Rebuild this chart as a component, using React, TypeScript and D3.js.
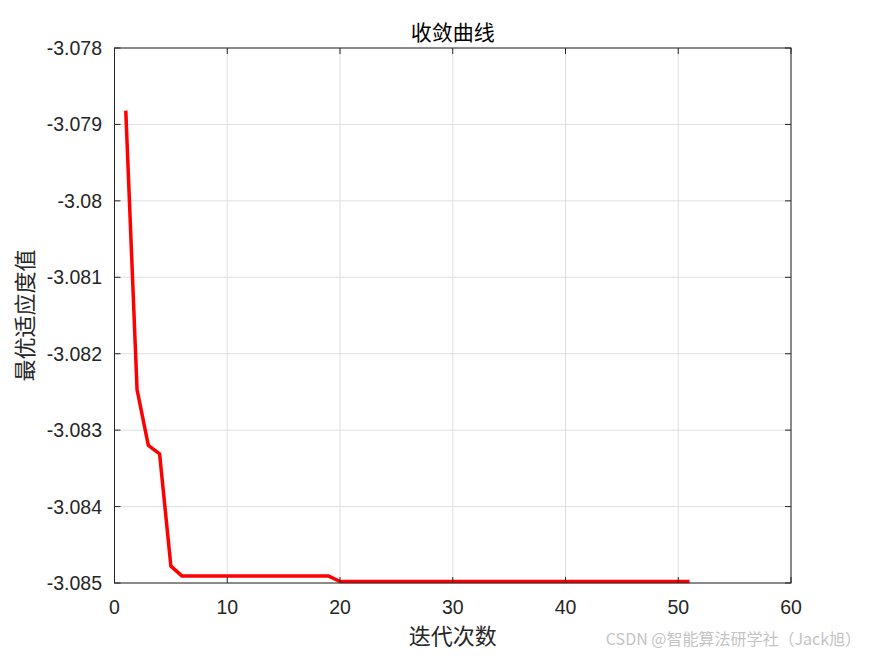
import React from "react";
import * as d3 from "d3";

const iterations: number[] = [
  1, 2, 3, 4, 5, 6, 7, 8, 9, 10, 11, 12, 13, 14, 15, 16, 17, 18, 19, 20,
  21, 22, 23, 24, 25, 26, 27, 28, 29, 30, 31, 32, 33, 34, 35, 36, 37, 38, 39, 40,
  41, 42, 43, 44, 45, 46, 47, 48, 49, 50, 51,
];
const fitness: number[] = [
  -3.07882, -3.08247, -3.0832, -3.08331, -3.08478, -3.08491, -3.08491, -3.08491, -3.08491, -3.08491,
  -3.08491, -3.08491, -3.08491, -3.08491, -3.08491, -3.08491, -3.08491, -3.08491, -3.08491, -3.08498,
  -3.08498, -3.08498, -3.08498, -3.08498, -3.08498, -3.08498, -3.08498, -3.08498, -3.08498, -3.08498,
  -3.08498, -3.08498, -3.08498, -3.08498, -3.08498, -3.08498, -3.08498, -3.08498, -3.08498, -3.08498,
  -3.08498, -3.08498, -3.08498, -3.08498, -3.08498, -3.08498, -3.08498, -3.08498, -3.08498, -3.08498,
  -3.08498,
];
const xTicks: number[] = [0, 10, 20, 30, 40, 50, 60];
const yTicks: number[] = [-3.085, -3.084, -3.083, -3.082, -3.081, -3.08, -3.079, -3.078];
const yTickLabels: string[] = ["-3.085", "-3.084", "-3.083", "-3.082", "-3.081", "-3.08", "-3.079", "-3.078"];
const title = "收敛曲线";
const xLabel = "迭代次数";
const yLabel = "最优适应度值";
const watermark = "CSDN @智能算法研学社（Jack旭）";

export default function App() {
  const W = 875, H = 656;
  const L = 114.5, R = 791, T = 48, B = 583;
  const x = d3.scaleLinear().domain([0, 60]).range([L, R]);
  const y = d3.scaleLinear().domain([-3.085, -3.078]).range([B, T]);
  const line = d3.line<number>().x((_, i) => x(iterations[i])).y((d) => y(d));
  const axisColor = "#262626";
  const gridColor = "#dfdfdf";
  const tickLen = 6;
  const cjk = "'Noto Sans CJK SC', sans-serif";
  const num = "'Liberation Sans', Arial, sans-serif";
  return (
    <svg width={W} height={H} style={{ position: "absolute", left: 0, top: 0, background: "#fff" }}>
      <rect x={0} y={0} width={W} height={H} fill="#fff" />
      {xTicks.map((t) => (
        <line key={"gx" + t} x1={x(t)} x2={x(t)} y1={T} y2={B} stroke={gridColor} strokeWidth={1} />
      ))}
      {yTicks.map((t) => (
        <line key={"gy" + t} x1={L} x2={R} y1={y(t)} y2={y(t)} stroke={gridColor} strokeWidth={1} />
      ))}
      <path d={line(fitness) || ""} fill="none" stroke="#ff0000" strokeWidth={3.5} strokeLinejoin="round" />
      <rect x={L} y={T} width={R - L} height={B - T} fill="none" stroke={axisColor} strokeWidth={1} />
      {xTicks.map((t) => (
        <g key={"tx" + t}>
          <line x1={x(t)} x2={x(t)} y1={B} y2={B - tickLen} stroke={axisColor} />
          <line x1={x(t)} x2={x(t)} y1={T} y2={T + tickLen} stroke={axisColor} />
          <text x={x(t)} y={614} textAnchor="middle" fontFamily={num} fontSize={19.5} fill={axisColor}>
            {t}
          </text>
        </g>
      ))}
      {yTicks.map((t, i) => (
        <g key={"ty" + t}>
          <line x1={L} x2={L + tickLen} y1={y(t)} y2={y(t)} stroke={axisColor} />
          <line x1={R} x2={R - tickLen} y1={y(t)} y2={y(t)} stroke={axisColor} />
          <text x={102} y={y(t) + 7} textAnchor="end" fontFamily={num} fontSize={19.5} fill={axisColor}>
            {yTickLabels[i]}
          </text>
        </g>
      ))}
      <text x={(L + R) / 2} y={40} textAnchor="middle" fontFamily={cjk} fontSize={21} fill="#000">
        {title}
      </text>
      <text x={(L + R) / 2} y={644} textAnchor="middle" fontFamily={cjk} fontSize={22} fill={axisColor}>
        {xLabel}
      </text>
      <text
        transform={`translate(33, ${(T + B) / 2}) rotate(-90)`}
        textAnchor="middle"
        fontFamily={cjk}
        fontSize={22}
        fill={axisColor}
      >
        {yLabel}
      </text>
      <text x={861} y={645} textAnchor="end" fontFamily={cjk} fontSize={16} fill="#c4c4c4">
        {watermark}
      </text>
    </svg>
  );
}
